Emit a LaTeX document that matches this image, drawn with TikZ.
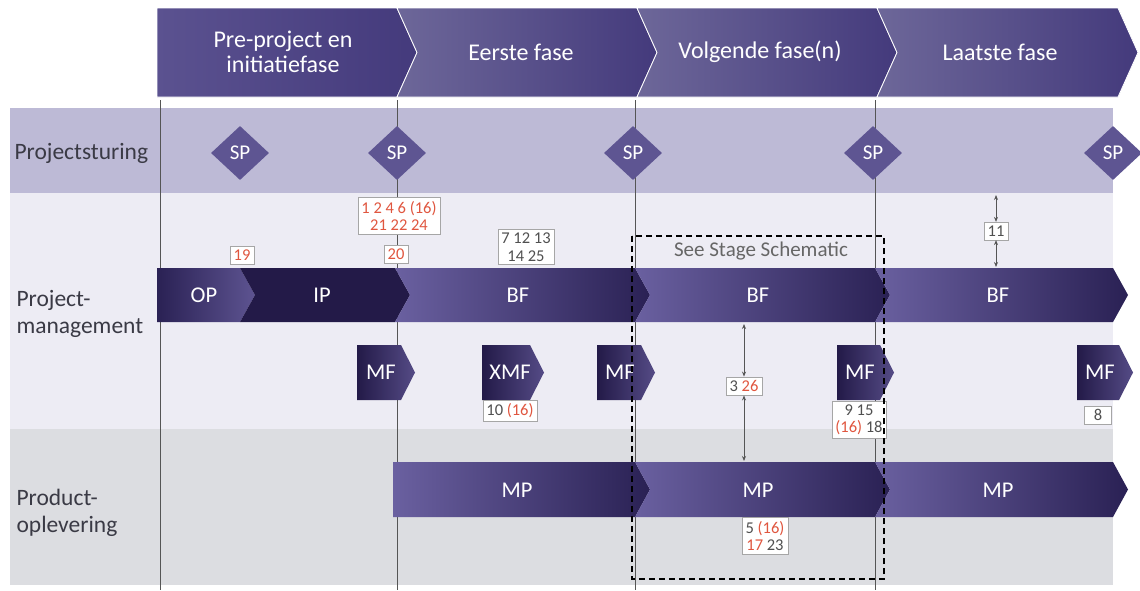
\documentclass[tikz,border=0pt]{standalone}
\usepackage{fontspec}
\setmainfont{Carlito}
\usetikzlibrary{shapes.geometric,arrows.meta}

\definecolor{hdrlight}{HTML}{6D6799}
\definecolor{hdrdark}{HTML}{443A7C}
\definecolor{hdrfirst}{HTML}{5B5290}
\definecolor{sturing}{HTML}{BDBAD6}
\definecolor{pmband}{HTML}{EDECF4}
\definecolor{prodband}{HTML}{DCDDE1}
\definecolor{spcol}{HTML}{5E5592}
\definecolor{navy}{HTML}{231A48}
\definecolor{barlight}{HTML}{6A60A0}
\definecolor{bardark}{HTML}{2A2154}
\definecolor{numred}{HTML}{E0563F}
\definecolor{numdark}{HTML}{505050}
\definecolor{lblgray}{HTML}{3A3A45}
\definecolor{linegray}{HTML}{555555}

% chevron with a notched back:  style, x0, x1, tip depth, top, bottom
\newcommand\chevN[6]{%
  \path[#1] (#2,#5) -- (#3,#5) -- ({#3+#4},{(#5+#6)/2}) -- (#3,#6) -- (#2,#6)
    -- ({#2+#4},{(#5+#6)/2}) -- cycle;}
% chevron with a flat back
\newcommand\chevF[6]{%
  \path[#1] (#2,#5) -- (#3,#5) -- ({#3+#4},{(#5+#6)/2}) -- (#3,#6) -- (#2,#6) -- cycle;}

\tikzset{
  hdrfill/.style={left color=hdrlight, right color=hdrdark, draw=white, line width=0.8pt},
  hdrfirstfill/.style={left color=hdrfirst, right color=hdrdark, draw=white, line width=0.8pt},
  hdrtext/.style={text=white, font=\fontsize{24}{25}\selectfont, align=center},
  lanelbl/.style={text=lblgray, font=\fontsize{23.5}{27}\selectfont, align=left, anchor=west},
  lightbar/.style={left color=barlight, right color=bardark},
  opbar/.style={left color=bardark, right color=barlight!80!bardark},
  navybar/.style={fill=navy},
  mffill/.style={left color=navy, right color=barlight!70!navy},
  bartext/.style={text=white, font=\fontsize{22.5}{24}\selectfont},
  spdia/.style={diamond, fill=spcol, minimum width=58pt, minimum height=54pt, inner sep=0pt,
    text=white, font=\fontsize{21}{23}\selectfont},
  numbox/.style={draw=gray!70, fill=white, line width=0.6pt, inner xsep=3.5pt, inner ysep=3.5pt,
    font=\fontsize{16.5}{17.5}\selectfont, align=center, text=numdark},
  vline/.style={draw=linegray, line width=0.8pt},
  dblarrow/.style={draw=linegray, line width=0.8pt, {Stealth[length=5pt,width=4pt]}-{Stealth[length=5pt,width=4pt]}},
  stagebox/.style={draw=black, line width=1.6pt, dash pattern=on 6pt off 4pt},
}

\begin{document}
\begin{tikzpicture}[x=1pt, y=-1pt]
\useasboundingbox (0,0) rectangle (1140,590);
\fill[white] (0,0) rectangle (1140,590);

% lane backgrounds
\fill[sturing]  (10,108) rectangle (1113,193);
\fill[pmband]   (10,193) rectangle (1113,429);
\fill[prodband] (10,429) rectangle (1113,585);

% phase header
\chevF{hdrfirstfill}{157}{397}{20}{8}{97}
\chevN{hdrfill}{397}{637}{20}{8}{97}
\chevN{hdrfill}{637}{877}{20}{8}{97}
\chevN{hdrfill}{877}{1118}{20}{8}{97}
\node[hdrtext] (h1) at (283,52) {Pre-project en\\initiatiefase};
\node[hdrtext] (h2) at (521,52) {Eerste fase};
\node[hdrtext] (h3) at (760,52) {Volgende fase(n)};
\node[hdrtext] (h4) at (1000,52) {Laatste fase};

% lane titles
\node[lanelbl] (l1) at (11,153) {Projectsturing};
\node[lanelbl] (l2) at (13,314) {Project-\\management};
\node[lanelbl] (l3) at (13,513) {Product-\\oplevering};

% phase boundaries
\coordinate (v0t) at (160,100); \coordinate (v0b) at (160,590);
\coordinate (v1t) at (397,100); \coordinate (v1b) at (397,590);
\coordinate (v2t) at (635,100); \coordinate (v2b) at (635,590);
\coordinate (v3t) at (875,100); \coordinate (v3b) at (875,590);
\draw[vline] (v0t) -- (v0b);
\draw[vline] (v1t) -- (v1b);
\draw[vline] (v2t) -- (v2b);
\draw[vline] (v3t) -- (v3b);

% stage points
\node[spdia] (sp1) at (240,153) {SP};
\node[spdia] (sp2) at (397,153) {SP};
\node[spdia] (sp3) at (633,153) {SP};
\node[spdia] (sp4) at (873,153) {SP};
\node[spdia] (sp5) at (1113,153) {SP};

% project management processes
\chevF{opbar}{157}{240}{15}{268}{322}
\chevN{navybar}{240}{395}{15}{268}{322}
\chevN{lightbar}{395}{635}{15}{268}{322}
\chevN{lightbar}{635}{875}{15}{268}{322}
\chevN{lightbar}{875}{1113}{15}{268}{322}
\node[bartext] (op)  at (204,295) {OP};
\node[bartext] (ip)  at (322,295) {IP};
\node[bartext] (bf1) at (518,295) {BF};
\node[bartext] (bf2) at (758,295) {BF};
\node[bartext] (bf3) at (998,295) {BF};

% stage boundary products
\chevF{mffill}{357}{401}{14}{345}{400}
\chevF{mffill}{482}{530}{14}{345}{400}
\chevF{mffill}{597}{641}{14}{345}{400}
\chevF{mffill}{837}{880}{14}{345}{400}
\chevF{mffill}{1077}{1119}{14}{345}{400}
\node[bartext] (mf1) at (381,372) {MF};
\node[bartext] (xmf) at (510,372) {XMF};
\node[bartext] (mf3) at (620,372) {MF};
\node[bartext] (mf4) at (860,372) {MF};
\node[bartext] (mf5) at (1100,372) {MF};

% product delivery
\chevF{lightbar}{393}{635}{15}{462}{517}
\chevN{lightbar}{635}{875}{15}{462}{517}
\chevN{lightbar}{875}{1113}{15}{462}{517}
\node[bartext] (mp1) at (517,490) {MP};
\node[bartext] (mp2) at (758,490) {MP};
\node[bartext] (mp3) at (998,490) {MP};

% reference numbers
\node[numbox, text=numred] (n19) at (242,255) {19};
\node[numbox, text=numred] (n1)  at (399,216) {1 2 4 6 (16)\\21 22 24};
\node[numbox, text=numred] (n20) at (396,254) {20};
\node[numbox] (n7)  at (526,247) {7 12 13\\14 25};
\node[numbox] (n11) at (996,231) {11};
\node[numbox] (n10) at (510,411) {10 \textcolor{numred}{(16)}};
\node[numbox] (n3)  at (744,386) {3 \textcolor{numred}{26}};
\node[numbox] (n9)  at (859,420) {9 15\\\textcolor{numred}{(16)} 18};
\node[numbox, minimum width=27pt] (n8) at (1098,415) {8};
\node[numbox] (n5)  at (765,536) {5 \textcolor{numred}{(16)}\\\textcolor{numred}{17} 23};

% links between lanes
\coordinate (a11t) at (996,195);
\coordinate (a11b) at (996,267);
\coordinate (a3t)  at (744,324);
\coordinate (a3b)  at (744,461);
\draw[dblarrow] (a11t) -- (n11.north);
\draw[dblarrow] (n11.south) -- (a11b);
\draw[dblarrow] (a3t) -- (n3.north);
\draw[dblarrow] (n3.south) -- (a3b);

% stage schematic frame
\draw[stagebox] (632,236) rectangle (884,579);
\node[text=gray!80!black, font=\fontsize{21}{23}\selectfont] (sss) at (761,251) {See Stage Schematic};
\end{tikzpicture}
\end{document}
